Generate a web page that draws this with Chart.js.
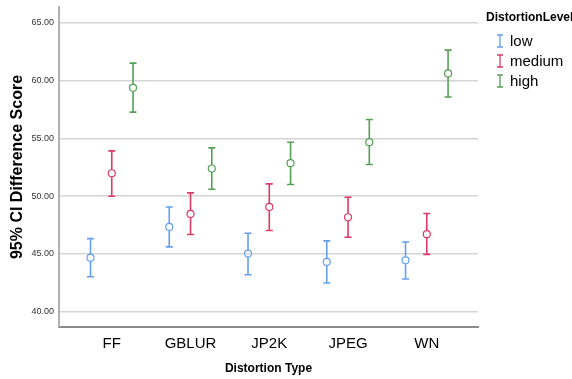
<!DOCTYPE html>
<html>
<head>
<meta charset="utf-8">
<script src="https://cdn.jsdelivr.net/npm/chart.js@4"></script>
<style>
  html, body { margin: 0; padding: 0; background: #fff; }
  #wrap { width: 572px; height: 379px; }
</style>
</head>
<body>
<div id="wrap"><canvas id="chart"></canvas></div>
<script>
// data
const categories = ['FF', 'GBLUR', 'JP2K', 'JPEG', 'WN'];
const levels = ['low', 'medium', 'high'];
const levelColors = ['#64a0ec', '#dc3c64', '#55a055'];
const levelOffsets = [-0.27, 0, 0.27];

const lowMean = [44.68, 47.34, 45.03, 44.31, 44.45];
const lowLower = [43.03, 45.61, 43.20, 42.49, 42.83];
const lowUpper = [46.33, 49.07, 46.79, 46.13, 46.04];

const mediumMean = [51.99, 48.47, 49.07, 48.18, 46.71];
const mediumLower = [50.00, 46.68, 47.03, 46.45, 44.96];
const mediumUpper = [53.93, 50.29, 51.07, 49.91, 48.50];

const highMean = [59.39, 52.40, 52.86, 54.68, 60.63];
const highLower = [57.28, 50.61, 51.01, 52.75, 58.59];
const highUpper = [61.53, 54.19, 54.68, 56.65, 62.65];

const yTicks = [40, 45, 50, 55, 60, 65];

const means = [lowMean, mediumMean, highMean];
const lowers = [lowLower, mediumLower, highLower];
const uppers = [lowUpper, mediumUpper, highUpper];

const FONT = '"Liberation Sans", Arial, sans-serif';

const datasets = levels.map((lvl, i) => ({
    label: lvl,
    data: categories.map((c, j) => ({
        x: j + levelOffsets[i],
        y: means[i][j],
        lo: lowers[i][j],
        hi: uppers[i][j]
    })),
    pointStyle: 'circle',
    pointRadius: 3.5,
    pointHoverRadius: 3.5,
    borderWidth: 1.2,
    borderColor: levelColors[i],
    backgroundColor: 'rgba(0,0,0,0)',
    showLine: false
}));

// whiskers with caps, placed through the chart scales
const errorBars = {
    id: 'errorBars',
    afterDatasetsDraw(chart) {
        const ctx = chart.ctx;
        const xs = chart.scales.x;
        const ys = chart.scales.y;
        ctx.save();
        chart.data.datasets.forEach((ds) => {
            ctx.strokeStyle = ds.borderColor;
            ctx.lineWidth = 1.6;
            ds.data.forEach((p) => {
                const px = xs.getPixelForValue(p.x);
                const top = ys.getPixelForValue(p.hi);
                const bot = ys.getPixelForValue(p.lo);
                const yc = ys.getPixelForValue(p.y);
                ctx.beginPath();
                ctx.moveTo(px, top);
                ctx.lineTo(px, yc - 3.5);
                ctx.moveTo(px, yc + 3.5);
                ctx.lineTo(px, bot);
                ctx.moveTo(px - 3.5, top);
                ctx.lineTo(px + 3.5, top);
                ctx.moveTo(px - 3.5, bot);
                ctx.lineTo(px + 3.5, bot);
                ctx.stroke();
            });
        });
        ctx.restore();
    }
};

// SPSS-style legend with its title on the right
const sideLegend = {
    id: 'sideLegend',
    afterDraw(chart) {
        const ctx = chart.ctx;
        ctx.save();
        ctx.fillStyle = '#000';
        ctx.font = 'bold 12px ' + FONT;
        ctx.textBaseline = 'middle';
        ctx.textAlign = 'left';
        ctx.fillText('DistortionLevel', 486, 18);
        levels.forEach((lvl, i) => {
            const y = 42 + i * 20;
            ctx.strokeStyle = levelColors[i];
            ctx.lineWidth = 1.3;
            ctx.beginPath();
            ctx.moveTo(500, y - 7);
            ctx.lineTo(500, y + 5);
            ctx.moveTo(497, y - 7);
            ctx.lineTo(503, y - 7);
            ctx.moveTo(497, y + 5);
            ctx.lineTo(503, y + 5);
            ctx.stroke();
            ctx.fillStyle = '#000';
            ctx.font = '15px ' + FONT;
            ctx.fillText(lvl, 510, y);
        });
        ctx.restore();
    }
};

new Chart(document.getElementById('chart'), {
    type: 'scatter',
    data: { datasets: datasets },
    options: {
        responsive: true,
        maintainAspectRatio: false,
        animation: false,
        layout: { padding: { top: 7, right: 94, left: 0, bottom: 0 } },
        plugins: {
            legend: { display: false },
            tooltip: { enabled: false }
        },
        scales: {
            x: {
                type: 'linear',
                min: -0.67,
                max: 4.65,
                afterBuildTicks: (scale) => {
                    scale.ticks = categories.map((c, j) => ({ value: j }));
                },
                afterFit: (scale) => {
                    scale.height = 52;
                    scale.paddingLeft = 0;
                    scale.paddingRight = 0;
                },
                ticks: {
                    autoSkip: false,
                    maxRotation: 0,
                    padding: 8,
                    color: '#000',
                    font: { family: FONT, size: 15 },
                    callback: (v) => categories[v]
                },
                grid: { display: false, drawTicks: false },
                border: { display: true, color: '#8c8c8c', width: 2 },
                title: {
                    display: true,
                    text: 'Distortion Type',
                    color: '#000',
                    font: { family: FONT, size: 12, weight: 'bold' },
                    padding: { top: 0, bottom: 3 }
                }
            },
            y: {
                min: 38.675,
                max: 66.386,
                afterBuildTicks: (scale) => {
                    scale.ticks = yTicks.map((v) => ({ value: v }));
                },
                afterFit: (scale) => {
                    scale.width = 59;
                    scale.paddingTop = 0;
                    scale.paddingBottom = 0;
                },
                ticks: {
                    padding: 5,
                    color: '#333',
                    font: { family: FONT, size: 9 },
                    callback: (v) => Number(v).toFixed(2)
                },
                grid: { color: '#d4d4d4', lineWidth: 1.5, drawTicks: false },
                border: { display: true, color: '#b0b0b0', width: 2 },
                title: {
                    display: true,
                    text: '95% CI Difference Score',
                    color: '#000',
                    font: { family: FONT, size: 16, weight: 'bold' },
                    padding: { top: 8, bottom: 0 }
                }
            }
        }
    },
    plugins: [errorBars, sideLegend]
});
</script>
</body>
</html>
